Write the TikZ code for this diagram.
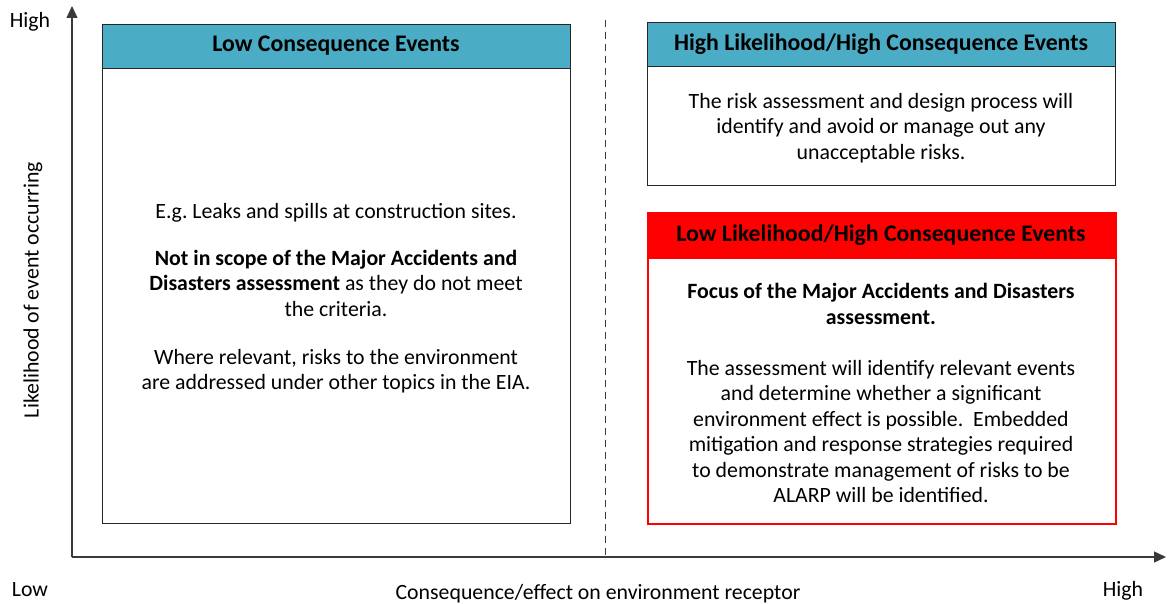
\documentclass[tikz,border=0pt]{standalone}
\usepackage{fontspec}
\setmainfont{Carlito}
\usetikzlibrary{arrows.meta}
\definecolor{hdrblue}{HTML}{4BACC6}
\definecolor{boxline}{HTML}{262626}
\definecolor{axisline}{HTML}{3A3A3A}
\tikzset{
  px/.style={x=1pt,y=-1pt},
  box/.style={draw=boxline,line width=1.3pt,anchor=north west,inner sep=0pt,fill=white},
  redbox/.style={draw=red,line width=2.4pt,anchor=north west,inner sep=0pt},
  hdr/.style={box,fill=hdrblue},
  redhdr/.style={redbox,fill=red},
  txt/.style={align=center,font=\fontsize{21.8}{25.5}\selectfont,inner sep=0pt},
  htxt/.style={align=center,font=\fontsize{23.8}{26}\selectfont\bfseries,inner sep=0pt},
  axis/.style={draw=axisline,line width=1.3pt,-{Triangle[length=12pt,width=11pt]}},
}
\begin{document}
\begin{tikzpicture}[px]
\useasboundingbox (0,0) rectangle (1171,604);
% axes
\coordinate (O) at (72,557);
\coordinate (ytip) at (72,6);
\coordinate (xtip) at (1166,557);
\draw[axis] (O) -- (ytip);
\draw[axis] (O) -- (xtip);
\coordinate (dtop) at (605,20);
\coordinate (dbot) at (605,557);
\draw[draw=axisline,line width=1pt,dash pattern=on 7pt off 5pt] (dtop) -- (dbot);
% axis labels
\node[txt] (yhigh) at (30,22) {High};
\node[txt] (ylow) at (30,590) {Low};
\node[txt] (xhigh) at (1123,591) {High};
\node[txt] (xlab) at (598,594) {Consequence/effect on environment receptor};
\node[txt,rotate=90] (ylab) at (33,290) {Likelihood of event occurring};
% left box
\node[box,minimum width=468pt,minimum height=499pt] (lbox) at (102,24) {};
\node[hdr,minimum width=468pt,minimum height=44pt] (lhdr) at (102,24) {};
\node[htxt] (lhdrt) at (336,46) {Low Consequence Events};
\node[txt] (ltext) at (336,298) {E.g.\ Leaks and spills at construction sites.\\[21.5pt]
\textbf{Not in scope of the Major Accidents and}\\
\textbf{Disasters assessment} as they do not meet\\
the criteria.\\[22.5pt]
Where relevant, risks to the environment\\
are addressed under other topics in the EIA.};
% top right box
\node[box,minimum width=468pt,minimum height=163pt] (trbox) at (647,22) {};
\node[hdr,minimum width=468pt,minimum height=44pt] (trhdr) at (647,22) {};
\node[htxt] (trhdrt) at (881,44) {High Likelihood/High Consequence Events};
\node[txt] (trtext) at (881,128) {The risk assessment and design process will\\
identify and avoid or manage out any\\
unacceptable risks.};
% red box
\node[redbox,fill=white,minimum width=468pt,minimum height=311pt] (rbox) at (647,212) {};
\node[redhdr,minimum width=468pt,minimum height=45pt] (rhdr) at (647,212) {};
\node[htxt] (rhdrt) at (881,235) {Low Likelihood/High Consequence Events};
\node[txt] (rtext) at (881,393) {\textbf{Focus of the Major Accidents and Disasters}\\
\textbf{assessment.}\\[25.5pt]
The assessment will identify relevant events\\
and determine whether a significant\\
environment effect is possible.\ \ Embedded\\
mitigation and response strategies required\\
to demonstrate management of risks to be\\
ALARP will be identified.};
\end{tikzpicture}
\end{document}
